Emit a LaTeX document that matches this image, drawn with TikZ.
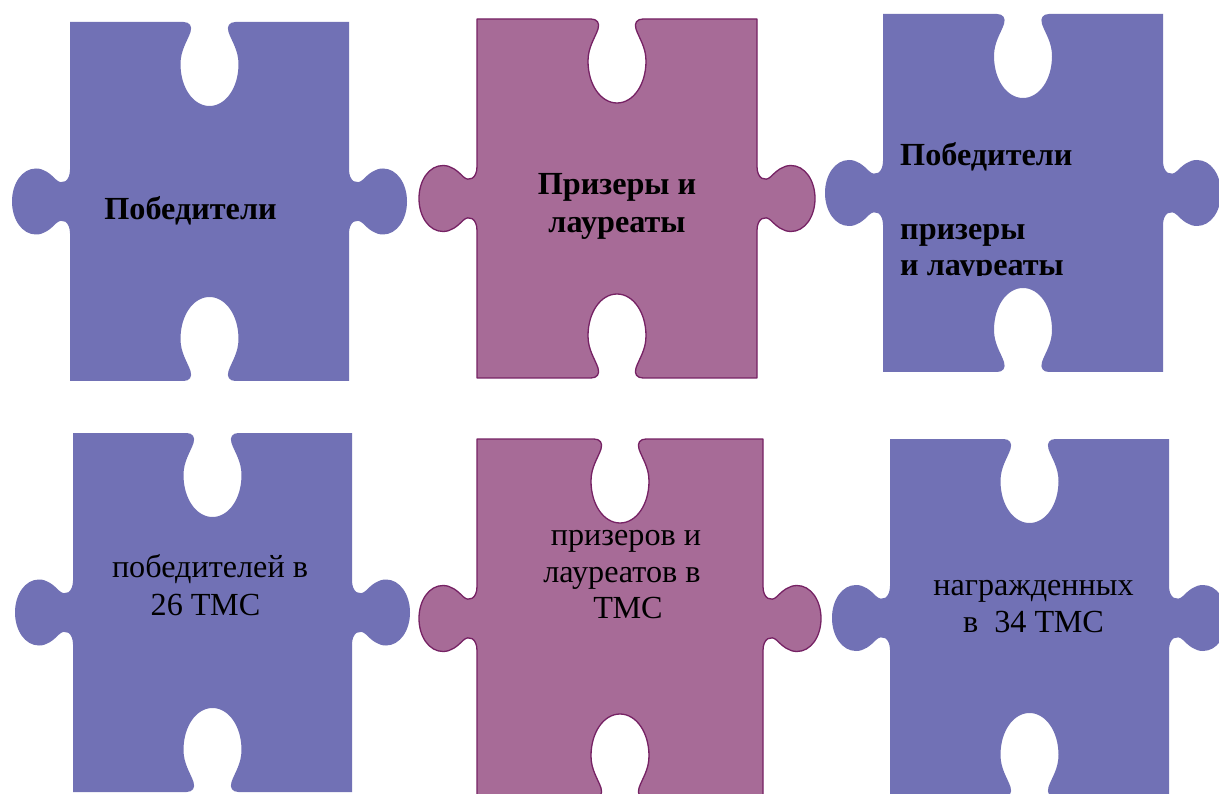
\documentclass[tikz,border=0pt]{standalone}
\usepackage{fontspec}
\setmainfont{Liberation Serif}
\definecolor{pieceblue}{RGB}{113,113,181}
\definecolor{piecepurple}{RGB}{167,107,151}
\definecolor{pieceedge}{RGB}{118,34,100}
% #1 left, #2 top, #3 right, #4 bottom, #5 style
\newcommand{\jigsawpiece}[5]{%
  \pgfmathsetmacro{\jcx}{(#1+#3)/2}%
  \pgfmathsetmacro{\jcy}{(#2+#4)/2}%
  \pgfmathsetmacro{\ha}{(#3-#1)/2}%
  \pgfmathsetmacro{\hb}{(#4-#2)/2}%
  \begin{scope}[shift={(\jcx,\jcy)}]
  \path[#5] (-\ha,-\hb) -- (-26,-\hb)
    .. controls (-20,-\hb) and (-17,{-\hb+4}) .. (-19,{-\hb+10})
    .. controls (-22,{-\hb+19}) and (-29,{-\hb+28}) .. (-29,{-\hb+42})
    .. controls (-29,{-\hb+66}) and (-16,{-\hb+84}) .. (0,{-\hb+84})
    .. controls (16,{-\hb+84}) and (29,{-\hb+66}) .. (29,{-\hb+42})
    .. controls (29,{-\hb+28}) and (22,{-\hb+19}) .. (19,{-\hb+10})
    .. controls (17,{-\hb+4}) and (20,-\hb) .. (26,-\hb)
    -- (\ha,-\hb) -- (\ha,-32)
    .. controls (\ha,-20) and ({\ha+8},-16) .. ({\ha+14},-22)
    .. controls ({\ha+20},-28) and ({\ha+26},-33) .. ({\ha+34},-33)
    .. controls ({\ha+48},-33) and ({\ha+58},-18) .. ({\ha+58},0)
    .. controls ({\ha+58},18) and ({\ha+48},33) .. ({\ha+34},33)
    .. controls ({\ha+26},33) and ({\ha+20},28) .. ({\ha+14},22)
    .. controls ({\ha+8},16) and (\ha,20) .. (\ha,32)
    -- (\ha,\hb) -- (26,\hb)
    .. controls (20,\hb) and (17,{\hb-4}) .. (19,{\hb-10})
    .. controls (22,{\hb-19}) and (29,{\hb-28}) .. (29,{\hb-42})
    .. controls (29,{\hb-66}) and (16,{\hb-84}) .. (0,{\hb-84})
    .. controls (-16,{\hb-84}) and (-29,{\hb-66}) .. (-29,{\hb-42})
    .. controls (-29,{\hb-28}) and (-22,{\hb-19}) .. (-19,{\hb-10})
    .. controls (-17,{\hb-4}) and (-20,\hb) .. (-26,\hb)
    -- (-\ha,\hb) -- (-\ha,32)
    .. controls (-\ha,20) and ({-\ha-8},16) .. ({-\ha-14},22)
    .. controls ({-\ha-20},28) and ({-\ha-26},33) .. ({-\ha-34},33)
    .. controls ({-\ha-48},33) and ({-\ha-58},18) .. ({-\ha-58},0)
    .. controls ({-\ha-58},-18) and ({-\ha-48},-33) .. ({-\ha-34},-33)
    .. controls ({-\ha-26},-33) and ({-\ha-20},-28) .. ({-\ha-14},-22)
    .. controls ({-\ha-8},-16) and (-\ha,-20) .. (-\ha,-32)
    -- cycle;
  \end{scope}}
\begin{document}
\begin{tikzpicture}[x=1pt,y=-1pt,
  bluepiece/.style={fill=pieceblue},
  purplepiece/.style={fill=piecepurple,draw=pieceedge,line width=1.3pt,line join=round},
  txt/.style={font=\fontsize{32.2}{38}\selectfont,inner sep=0pt,anchor=base,text=black},
  btxt/.style={txt,font=\fontsize{32.2}{38}\selectfont\bfseries}]
\useasboundingbox[fill=white] (0,0) rectangle (1219,794);
\clip (0,0) rectangle (1219,794);
% pieces
\jigsawpiece{70}{22}{349}{381}{bluepiece}
\jigsawpiece{477}{19}{757}{378}{purplepiece}
\jigsawpiece{883}{14}{1163}{372}{bluepiece}
\jigsawpiece{73}{433}{352}{792}{bluepiece}
\jigsawpiece{477}{439}{763}{798}{purplepiece}
\jigsawpiece{890}{439}{1169}{797}{bluepiece}
% texts
\node[btxt] (p1) at (190.5,220) {Победители};
\node[btxt] (p2a) at (617,195) {Призеры и};
\node[btxt] (p2b) at (617,233) {лауреаты};
\node[btxt,anchor=base west] (p3a) at (900,166) {Победители};
\node[btxt,anchor=base west] (p3b) at (900,240) {призеры};
\begin{scope}
\clip (883,0) rectangle (1163,276);
\node[btxt,anchor=base west] (p3c) at (900,276) {и лауреаты};
\end{scope}
\node[txt] (p4a) at (210,577) {победителей в};
\node[txt] (p4b) at (205.5,615) {26 ТМС};
\node[txt] (p5a) at (626,545) {призеров и};
\node[txt] (p5b) at (622,582) {лауреатов в};
\node[txt] (p5c) at (628,618) {ТМС};
\node[txt] (p6a) at (1033.5,595) {награжденных};
\node[txt] (p6b) at (1033.5,632) {в\ \ 34 ТМС};
\end{tikzpicture}
\end{document}
